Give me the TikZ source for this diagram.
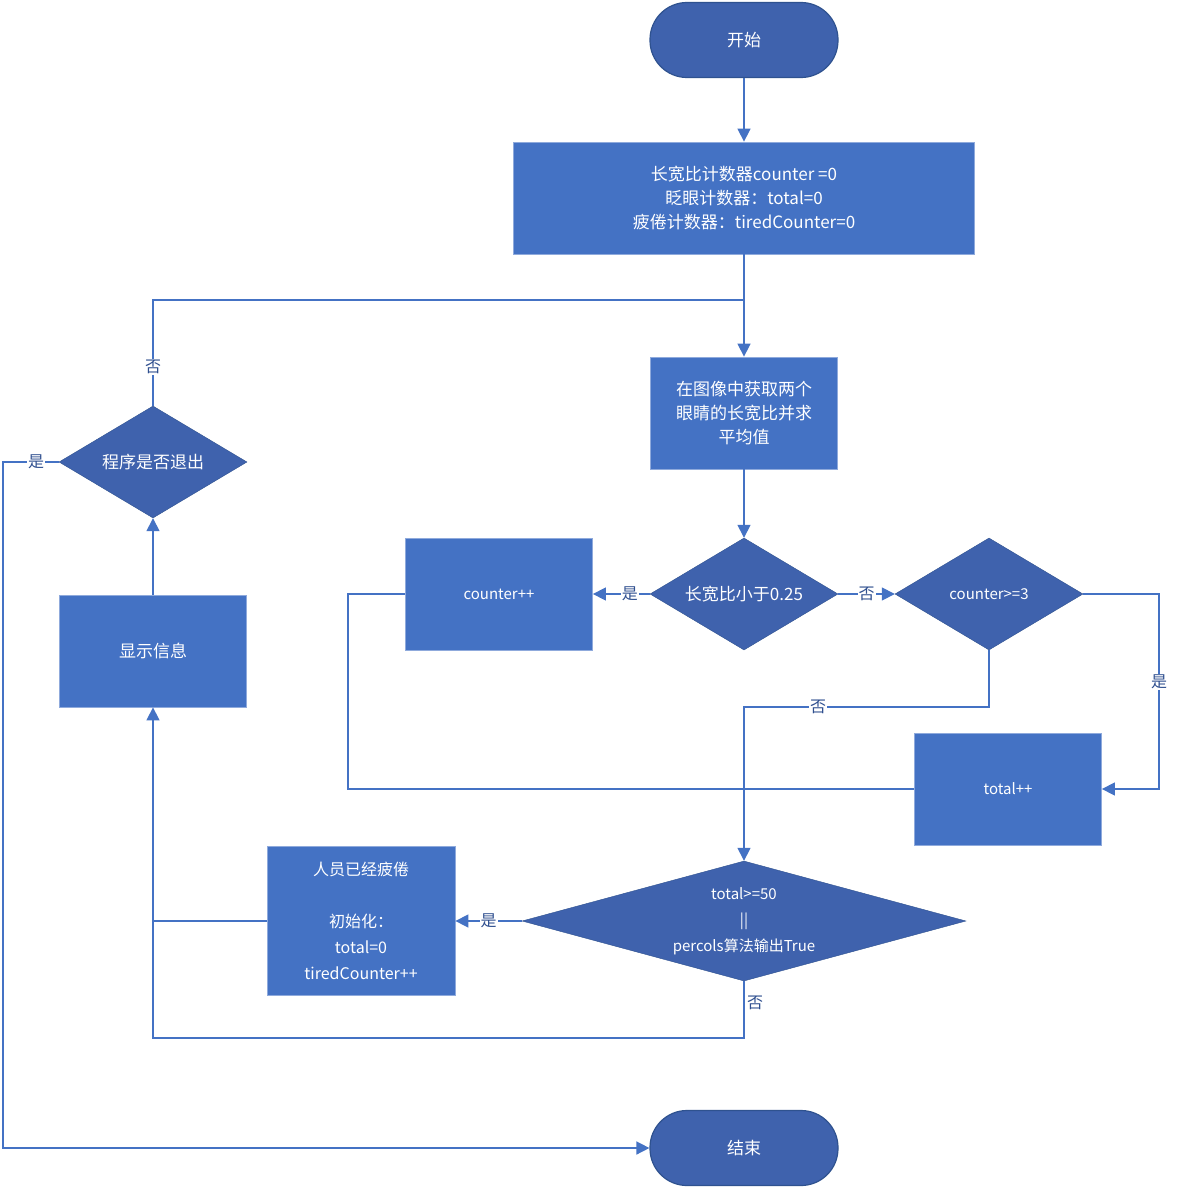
\documentclass[tikz,border=0pt]{standalone}
\usepackage{fontspec}
\setmainfont{Noto Sans CJK SC}
\usetikzlibrary{shapes.geometric,arrows.meta}
\definecolor{boxc}{HTML}{4472C4}
\definecolor{darkc}{HTML}{3F62AD}
\definecolor{bordc}{HTML}{2F528F}
\definecolor{lblc}{HTML}{2F4F8F}
\begin{document}
\begin{tikzpicture}[x=1pt,y=-1pt,
  every node/.style={font=\fontsize{17}{24}\selectfont},
  term/.style={draw=bordc,line width=1.2pt,fill=darkc,text=white,rounded corners=37pt,minimum width=188pt,minimum height=75pt},
  box/.style={draw=boxc!60!white,line width=0.8pt,fill=boxc,text=white,minimum width=#1,align=center},
  dia/.style={diamond,draw=bordc,fill=darkc,text=white,aspect=1.68,inner sep=0pt,minimum width=188pt,minimum height=112pt,align=center},
  ln/.style={draw=boxc,line width=1.5pt},
  ar/.style={ln,-{Triangle[length=13pt,width=13pt]}},
  lbl/.style={fill=white,text=lblc,inner sep=1pt,font=\fontsize{16}{20}\selectfont}]
\useasboundingbox (0,0) rectangle (1182,1188);
\node[term] (start) at (744,40) {开始};
\node[box=461pt,minimum height=112pt] (init) at (744,198) {长宽比计数器counter =0\\眨眼计数器：total=0\\疲倦计数器：tiredCounter=0};
\node[box=187pt,minimum height=112pt] (b2) at (744,413) {在图像中获取两个\\眼睛的长宽比并求\\平均值};
\node[dia] (d1) at (744,594) {长宽比小于0.25};
\node[box=187pt,minimum height=112pt,font=\fontsize{15}{20}\selectfont] (cnt) at (499,594) {counter++};
\node[dia,font=\fontsize{15}{20}\selectfont] (d2) at (989,594) {counter>=3};
\node[box=187pt,minimum height=112pt,font=\fontsize{15}{20}\selectfont] (tot) at (1008,789) {total++};
\node[dia,aspect=3.7,minimum width=444pt,minimum height=120pt,font=\fontsize{15}{26}\selectfont] (d3) at (744,921) {total>=50\\||\\percols算法输出True};
\node[box=188pt,minimum height=149pt,font=\fontsize{16}{26}\selectfont] (tired) at (361,921) {人员已经疲倦\\\\初始化：\\total=0\\tiredCounter++};
\node[box=187pt,minimum height=112pt] (disp) at (153,651) {显示信息};
\node[dia] (ex) at (153,462) {程序是否退出};
\node[term] (end) at (744,1148) {结束};

\draw[ar] (start) -- (init);
\draw[ar] (init) -- (b2);
\draw[ln] (ex.north) -- (153,300) -- (744,300);
\node[lbl] at (153,367) {否};
\draw[ar] (b2) -- (d1);
\draw[ar] (d1.west) -- (cnt.east) node[lbl,pos=0.35] {是};
\draw[ar] (d1.east) -- (d2.west) node[lbl,pos=0.5] {否};
\draw[ar] (d2.east) -- (1159,594) -- (1159,789) -- (tot.east);
\node[lbl] at (1159,682) {是};
\draw[ar] (d2.south) -- (989,707) -- (744,707) -- (d3.north);
\node[lbl] at (818,707) {否};
\draw[ln] (cnt.west) -- (348,594) -- (348,789) -- (tot.west);
\draw[ar] (d3.west) -- (tired.east) node[lbl,pos=0.5] {是};
\draw[ln] (tired.west) -- (153,921);
\draw[ar] (d3.south) -- (744,1038) -- (153,1038) -- (disp.south);
\node[lbl] at (755,1003) {否};
\draw[ar] (disp) -- (ex);
\draw[ar] (ex.west) -- (3,462) -- (3,1148) -- (end.west);
\node[lbl] at (36,462) {是};
\end{tikzpicture}
\end{document}
